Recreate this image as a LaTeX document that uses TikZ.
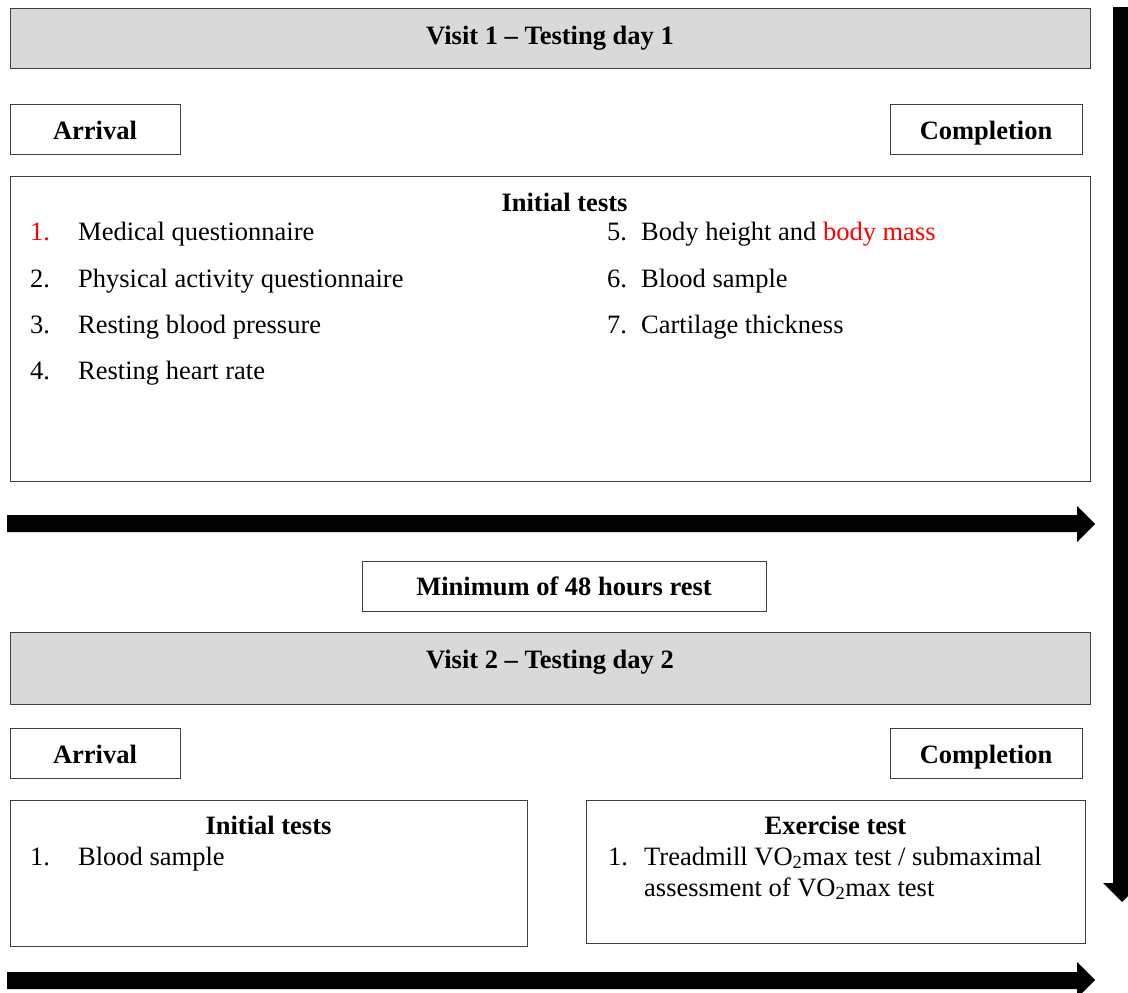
\documentclass[tikz,border=0pt]{standalone}
\usepackage{fontspec}
\setmainfont{Liberation Serif}
\definecolor{hdgray}{HTML}{D9D9D9}
\definecolor{edge}{HTML}{404040}
\definecolor{mred}{HTML}{FF0000}
\begin{document}
\begin{tikzpicture}[x=1pt,y=-1pt,
  box/.style={draw=edge, line width=1.2pt, anchor=north west, inner sep=0pt},
  hd/.style={fill=hdgray},
  txt/.style={anchor=base west, inner sep=0pt, font=\fontsize{26.5}{30}\selectfont},
  btxt/.style={anchor=base, inner sep=0pt, font=\fontsize{26.5}{30}\selectfont\bfseries},
  blk/.style={fill=black}]
\useasboundingbox (0,0) rectangle (1128,993);

% boxes
\node[box,hd,minimum width=1080,minimum height=60] (v1) at (10,8) {};
\node[box,minimum width=170,minimum height=50] (arr1) at (10,104) {};
\node[box,minimum width=192,minimum height=50] (comp1) at (890,104) {};
\node[box,minimum width=1080,minimum height=305] (init1) at (10,176) {};
\node[box,minimum width=404,minimum height=50] (rest) at (362,561) {};
\node[box,hd,minimum width=1080,minimum height=72] (v2) at (10,632) {};
\node[box,minimum width=170,minimum height=50] (arr2) at (10,728) {};
\node[box,minimum width=192,minimum height=50] (comp2) at (890,728) {};
\node[box,minimum width=517,minimum height=146] (init2) at (10,800) {};
\node[box,minimum width=499,minimum height=143] (exer) at (586,800) {};

% texts
\node[btxt] (tv1) at (550,44) {Visit 1 – Testing day 1};
\node[btxt] (tarr1) at (95,139) {Arrival};
\node[btxt] (tcomp1) at (986,139) {Completion};
\node[btxt] (tinit1) at (564.5,211) {Initial tests};
\node[txt,text=mred] (n1) at (30,240) {1.};
\node[txt] (i1) at (78,240) {Medical questionnaire};
\node[txt] (n2) at (30,287) {2.};
\node[txt] (i2) at (78,287) {Physical activity questionnaire};
\node[txt] (n3) at (30,333) {3.};
\node[txt] (i3) at (78,333) {Resting blood pressure};
\node[txt] (n4) at (30,379) {4.};
\node[txt] (i4) at (78,379) {Resting heart rate};
\node[txt] (n5) at (607,240) {5.};
\node[txt] (i5) at (641,240) {Body height and \textcolor{mred}{body mass}};
\node[txt] (n6) at (607,287) {6.};
\node[txt] (i6) at (641,287) {Blood sample};
\node[txt] (n7) at (607,333) {7.};
\node[txt] (i7) at (641,333) {Cartilage thickness};

\node[btxt] (trest) at (564,595) {Minimum of 48 hours rest};
\node[btxt] (tv2) at (550,668) {Visit 2 – Testing day 2};
\node[btxt] (tarr2) at (95,763) {Arrival};
\node[btxt] (tcomp2) at (986,763) {Completion};
\node[btxt] (tinit2) at (268.5,834) {Initial tests};
\node[txt] (m1) at (30,865) {1.};
\node[txt] (j1) at (78,865) {Blood sample};
\node[btxt] (texer) at (835.5,834) {Exercise test};
\node[txt] (e1) at (608,865) {1.};
\node[txt] (k1) at (644,865) {Treadmill VO\textsubscript{2}max test / submaximal};
\node[txt] (k2) at (644,896) {assessment of VO\textsubscript{2}max test};

% block arrows
\fill[blk] (7,515) -- (1077,515) -- (1077,506) -- (1095,524) -- (1077,542) -- (1077,532) -- (7,532) -- cycle;
\fill[blk] (7,972) -- (1077,972) -- (1077,962) -- (1095,980) -- (1077,998) -- (1077,989) -- (7,989) -- cycle;
\fill[blk] (1113,7) -- (1131,7) -- (1131,883) -- (1141,883) -- (1122,902) -- (1103,883) -- (1113,883) -- cycle;
\end{tikzpicture}
\end{document}
